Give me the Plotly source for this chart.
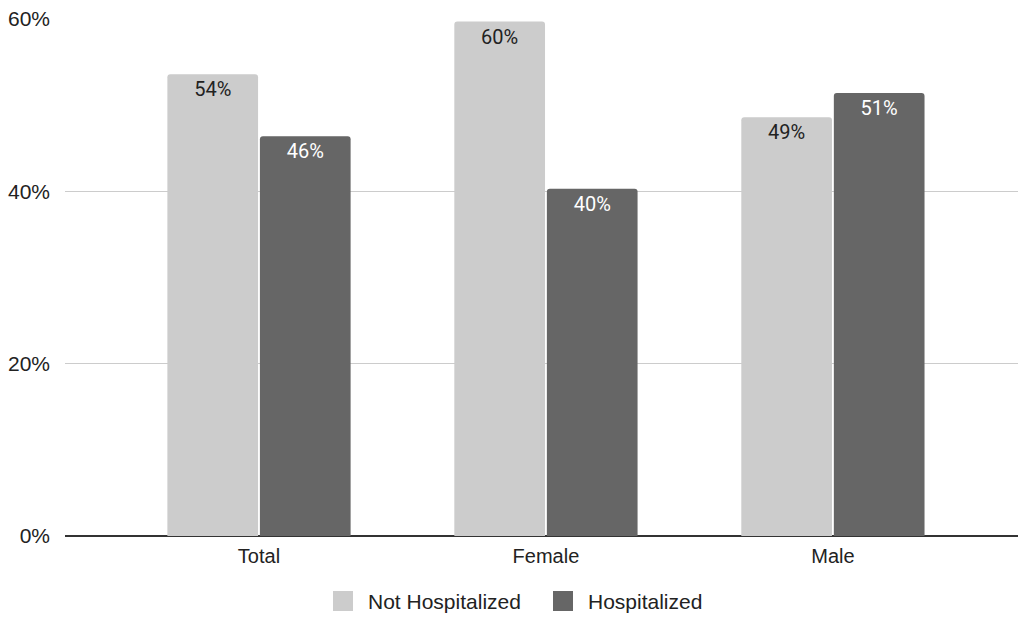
import plotly.graph_objects as go

categories = ["Total", "Female", "Male"]
not_hospitalized = [0.536, 0.597, 0.486]
hospitalized = [0.464, 0.403, 0.514]
series_names = ["Not Hospitalized", "Hospitalized"]
series_colors = ["#cccccc", "#666666"]
label_colors = ["#222222", "#ffffff"]
y_ticks = [0, 0.2, 0.4, 0.6]
y_tick_labels = ["0%", "20%", "40%", "60%"]

fig = go.Figure()
for name, vals, col, lcol in zip(series_names, [not_hospitalized, hospitalized], series_colors, label_colors):
    fig.add_trace(go.Bar(
        x=categories, y=vals, name=name,
        marker=dict(color=col, line=dict(width=0)),
        texttemplate="%{y:.0%}", textposition="inside", insidetextanchor="end",
        textfont=dict(family="Roboto", size=20, color=lcol),
        textangle=0, showlegend=False,
    ))

# custom legend (larger swatches, like the reference)
legend_x = [333, 553]
for name, col, lx in zip(series_names, series_colors, legend_x):
    fig.add_shape(type="rect", xref="paper", yref="paper",
                  x0=(lx - 65) / 953, x1=(lx + 20 - 65) / 953,
                  y0=(536 - 611) / 517, y1=(536 - 591) / 517,
                  fillcolor=col, line=dict(width=0), layer="above")
    fig.add_annotation(text=name, xref="paper", yref="paper",
                       x=(lx + 33 - 65) / 953, xanchor="left",
                       y=(536 - 601) / 517, yanchor="middle",
                       showarrow=False, font=dict(size=21, color="#222222"))

fig.update_layout(
    width=1018, height=617,
    margin=dict(l=65, r=0, t=19, b=81, autoexpand=False),
    paper_bgcolor="white", plot_bgcolor="white",
    barmode="group", bargap=0.355, bargroupgap=0.02,
    barcornerradius=3,
    font=dict(family="Liberation Sans, Arial", size=21, color="#222222"),
    uniformtext=dict(mode=False),
    xaxis=dict(range=[-0.676, 2.645], showgrid=False, showline=False, ticks="",
               tickfont=dict(size=20), automargin=False, ticklabelstandoff=6),
    yaxis=dict(range=[0, 0.6], tickvals=y_ticks, ticktext=y_tick_labels,
               showgrid=True, gridcolor="#cccccc", gridwidth=1,
               zeroline=True, zerolinecolor="#333333", zerolinewidth=1.5,
               showline=False, ticks="", ticklabelstandoff=14, automargin=False,
               tickfont=dict(size=21)),
)

fig.write_html("out.html", config={"displayModeBar": False},
               post_script="document.body.style.margin='0';document.body.style.overflow='hidden';")
